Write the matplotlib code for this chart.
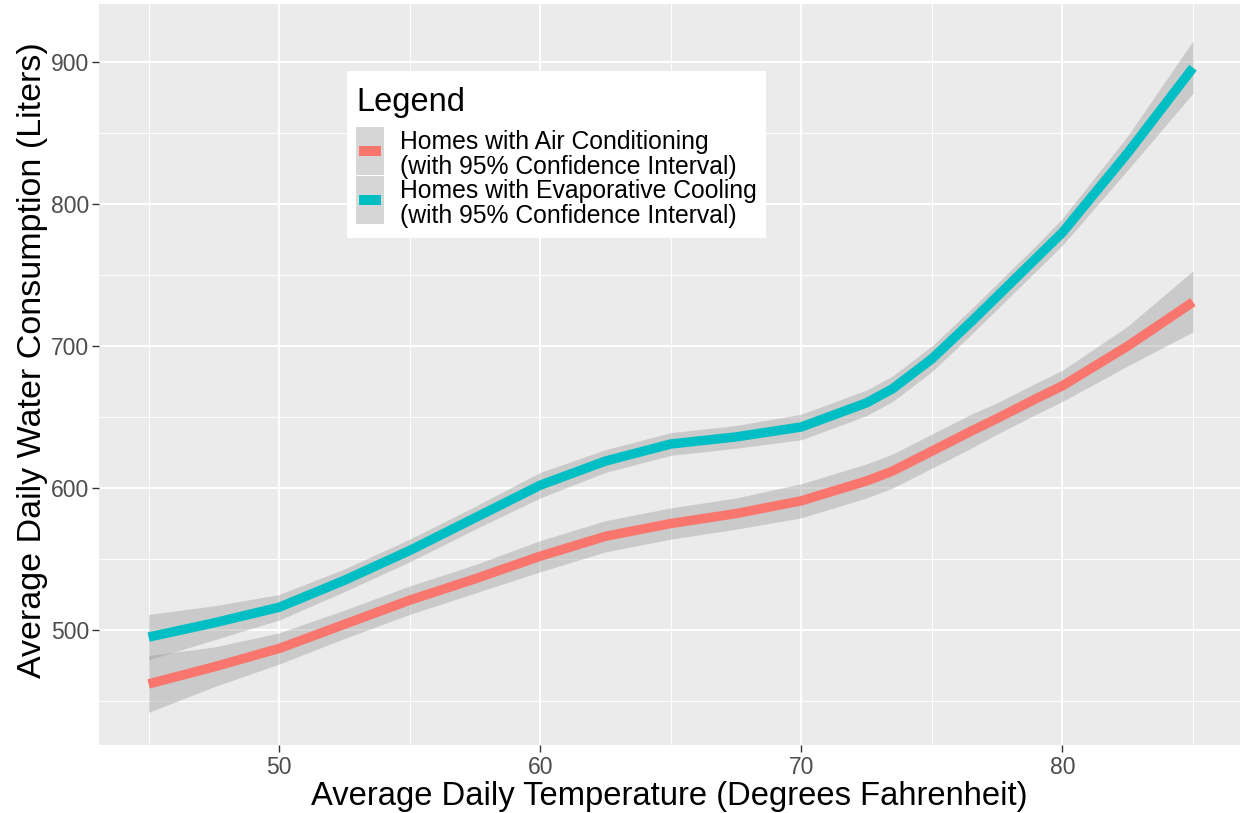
import matplotlib
matplotlib.use("Agg")
import matplotlib.pyplot as plt
from matplotlib.patches import Rectangle
from matplotlib.offsetbox import DrawingArea
from matplotlib.ticker import FixedLocator

plt.rcParams['font.family'] = ['Liberation Sans', 'DejaVu Sans']

# ---- data ----
temperature = [45, 47.5, 50, 52.5, 55, 57.5, 60, 62.5, 65, 67.5, 70,
               72.5, 73.5, 75, 76.5, 77.5, 79, 80, 82.5, 85]

ac_fit   = [462, 474, 487, 504, 521, 536, 552, 566, 575, 582, 591,
            605, 612, 626, 640, 649, 663, 672, 700, 731]
ac_lower = [442, 460, 476, 494, 511, 526, 541, 555, 564, 571, 579,
            593, 600, 614, 628, 638, 652, 661, 686, 710]
ac_upper = [482, 488, 498, 514, 531, 546, 563, 577, 586, 593, 603,
            617, 624, 638, 652, 660, 674, 683, 714, 753]

ev_fit   = [495, 505, 516, 535, 556, 579, 602, 619, 631, 636, 643,
            660, 670, 691, 717, 735, 762, 780, 836, 896]
ev_lower = [479, 493, 507, 527, 548, 571, 593, 611, 623, 628, 634,
            651, 661, 682, 708, 726, 753, 771, 824, 878]
ev_upper = [511, 517, 525, 543, 564, 587, 611, 627, 639, 644, 652,
            669, 679, 700, 726, 744, 771, 790, 848, 915]

series_labels = ["Homes with Air Conditioning\n(with 95% Confidence Interval)",
                 "Homes with Evaporative Cooling\n(with 95% Confidence Interval)"]
series_colors = ["#F8766D", "#00BFC4"]

x_major = [50, 60, 70, 80]
x_minor = [45, 55, 65, 75, 85]
y_major = [500, 600, 700, 800, 900]
y_minor = [450, 550, 650, 750, 850]

# ---- figure ----
W, H = 1243, 813
fig = plt.figure(figsize=(W / 100, H / 100), dpi=100)
left, right, top, bottom = 99, 1240, 4, 745
ax = fig.add_axes([left / W, (H - bottom) / H, (right - left) / W, (bottom - top) / H])
ax.set_facecolor("#EBEBEB")
for s in ax.spines.values():
    s.set_visible(False)

ax.set_xlim(43.1, 86.8)
ax.set_ylim(419.0, 940.9)
ax.xaxis.set_major_locator(FixedLocator(x_major))
ax.xaxis.set_minor_locator(FixedLocator(x_minor))
ax.yaxis.set_major_locator(FixedLocator(y_major))
ax.yaxis.set_minor_locator(FixedLocator(y_minor))
ax.grid(which="major", color="white", linewidth=1.4)
ax.grid(which="minor", color="white", linewidth=0.7)
ax.set_axisbelow(True)
ax.tick_params(which="major", length=5, width=1.0, color="#333333",
               labelsize=16.5, labelcolor="#4D4D4D", pad=2)
ax.tick_params(axis="x", which="major", pad=3)
ax.tick_params(which="minor", length=0)

fits = [(ac_fit, ac_lower, ac_upper), (ev_fit, ev_lower, ev_upper)]
for (fit, lo, hi), col in zip(fits, series_colors):
    ax.fill_between(temperature, lo, hi, color="#999999", alpha=0.4, linewidth=0, zorder=2)
for (fit, lo, hi), col in zip(fits, series_colors):
    ax.plot(temperature, fit, color=col, linewidth=6.8, solid_capstyle="butt",
            solid_joinstyle="round", zorder=3)

ax.set_xlabel("Average Daily Temperature (Degrees Fahrenheit)", fontsize=23.6, labelpad=1)
ax.set_ylabel("Average Daily Water Consumption (Liters)", fontsize=24.5)
ax.yaxis.set_label_coords(-0.0447, 0.52)


# ---- legend ----
class KeyHandler:
    def __init__(self, color):
        self.color = color

    def legend_artist(self, legend, orig_handle, fontsize, handlebox):
        x0, y0 = -handlebox.xdescent, -handlebox.ydescent
        w, h = handlebox.width, handlebox.height
        cy = y0 + h / 2 + 3.6
        kh = fontsize * 1.96
        bg = Rectangle((x0, cy - kh / 2), w, kh, facecolor="#999999", alpha=0.4,
                       edgecolor="none", transform=handlebox.get_transform())
        bw, bh = w * 0.79, kh * 0.2
        bar = Rectangle((x0 + (w - bw) / 2, cy - bh / 2), bw, bh,
                        facecolor=self.color, edgecolor="none",
                        transform=handlebox.get_transform())
        handlebox.add_artist(bg)
        handlebox.add_artist(bar)
        return bg


handles = [Rectangle((0, 0), 1, 1) for _ in series_labels]
hmap = {h: KeyHandler(c) for h, c in zip(handles, series_colors)}
leg = ax.legend(handles, series_labels, handler_map=hmap, title="Legend",
                title_fontsize=23.5, fontsize=17.8, loc="upper left",
                bbox_to_anchor=((347 - left) / (right - left), (bottom - 71) / (bottom - top)),
                borderaxespad=0, frameon=True, fancybox=False, framealpha=1,
                facecolor="white", edgecolor="none", alignment="left",
                handlelength=1.13, handleheight=1.98, handletextpad=0.65,
                labelspacing=0.0, borderpad=0.37)
for t in leg.get_texts():
    t.set_linespacing(1.05)
box = leg._legend_box
title_box, entries_box = box._children
box._children = [DrawingArea(1, 4.3), title_box, DrawingArea(1, 7.2),
                 entries_box, DrawingArea(1, 0)]
box.sep = 0.7

fig.savefig("out.png", dpi=100)
